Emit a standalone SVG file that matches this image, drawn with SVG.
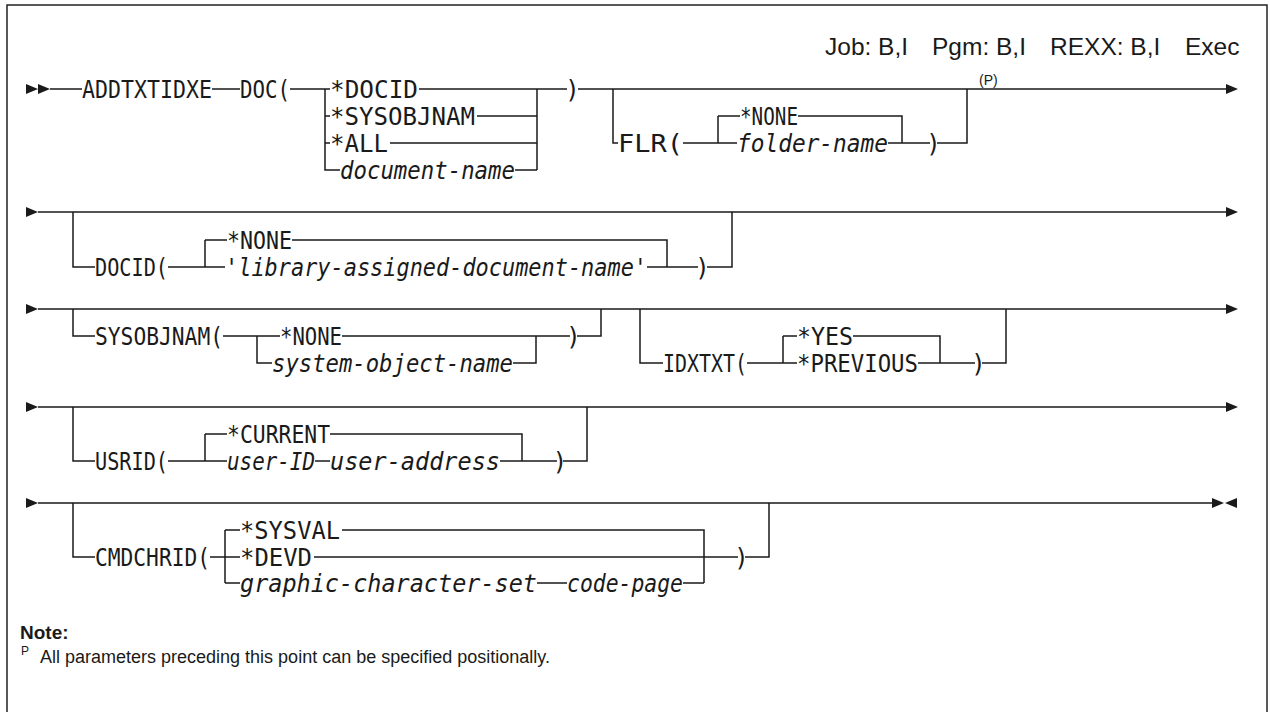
<svg xmlns="http://www.w3.org/2000/svg" width="1270" height="712" viewBox="0 0 1270 712">
<style>
.ln{fill:none;stroke:#1a1a1a;stroke-width:1.5}
.ah{fill:#1a1a1a}
.t{font-family:"DejaVu Sans Mono","Liberation Mono",monospace;font-size:24px;fill:#1a1a1a}
.i{font-style:italic}
.m{text-anchor:middle}
.s{font-family:"Liberation Sans",Arial,sans-serif;fill:#1a1a1a}
</style>
<rect x="7" y="5" width="1260" height="730" fill="#fff" stroke="#222" stroke-width="1.5"/>
<g id="header"><text class="s" font-size="24.5" y="55"><tspan x="825">Job: B,I</tspan><tspan x="932">Pgm: B,I</tspan><tspan x="1050">REXX: B,I</tspan><tspan x="1185">Exec</tspan></text></g>
<g id="connectors" class="ln">
<path d="M50 89H82M212 89H240M290 89H330M419 89H567M578 89H1226"/>
<path d="M325 89V170H340M325 116H330M325 143H330M477 116H537M390 143H537M515 170H537M537 89V170"/>
<path d="M613 89V143H618M683 143H737M718 116V143M718 116H740M798 116H902V143M888 143H930M937 143H967V89"/>
<path d="M38 212H1226M73 212V267H95M168 267H225M205 240V267M205 240H227M292 240H667V267M647 267H698M707 267H732V212"/>
<path d="M38 309H1226M73 309V336H95M223 336H280M257 336V363H272M513 363H536V336M342 336H570M577 336H601V309"/>
<path d="M640 309V363H663M747 363H797M783 336V363M783 336H797M853 336H940V363M918 363H975M982 363H1006V309"/>
<path d="M38 407H1226M73 407V461H95M168 461H227M205 434V461M205 434H227M330 434H522V461M315 461H330M500 461H557M563 461H587V407"/>
<path d="M38 503H1212M73 503V557H95M210 557H240M225 530V583M225 530H240M225 583H240M342 530H704V583M314 557H738M745 557H769V503M537 583H567M683 583H704"/>
</g>
<g id="arrows" class="ah">
<path d="M26 84L38 89L26 94ZM38 84L50 89L38 94Z"/>
<path d="M1226 84L1238 89L1226 94Z"/>
<path d="M26 207L38 212L26 217ZM1226 207L1238 212L1226 217Z"/>
<path d="M26 304L38 309L26 314ZM1226 304L1238 309L1226 314Z"/>
<path d="M26 402L38 407L26 412ZM1226 402L1238 407L1226 412Z"/>
<path d="M26 498L38 503L26 508ZM1212 498L1224 503L1212 508ZM1237 498L1225 503L1237 508Z"/>
</g>
<g id="n-addtxtidxe"><text class="t" x="82" y="97.5" textLength="130" lengthAdjust="spacingAndGlyphs">ADDTXTIDXE</text></g>
<g id="n-doc">
<text class="t" x="240" y="97.5" textLength="50" lengthAdjust="spacingAndGlyphs">DOC(</text>
<text class="t" x="330" y="97.5" textLength="88" lengthAdjust="spacingAndGlyphs">*DOCID</text>
<text class="t" x="330" y="124.5" textLength="145" lengthAdjust="spacingAndGlyphs">*SYSOBJNAM</text>
<text class="t" x="330" y="151.5" textLength="58" lengthAdjust="spacingAndGlyphs">*ALL</text>
<text class="t i" x="340" y="178.5" textLength="175" lengthAdjust="spacingAndGlyphs">document-name</text>
<text class="t m" x="572.5" y="97.5">)</text>
</g>
<g id="n-flr">
<text class="t" x="618" y="151.5" textLength="65" lengthAdjust="spacingAndGlyphs">FLR(</text>
<text class="t" x="740" y="124.5" textLength="58" lengthAdjust="spacingAndGlyphs">*NONE</text>
<text class="t i" x="737" y="151.5" textLength="151" lengthAdjust="spacingAndGlyphs">folder-name</text>
<text class="t m" x="933.5" y="151.5">)</text>
<text class="s" font-size="14" x="979" y="85">(P)</text>
</g>
<g id="n-docid">
<text class="t" x="95" y="275.5" textLength="73" lengthAdjust="spacingAndGlyphs">DOCID(</text>
<text class="t" x="227" y="248.5" textLength="65" lengthAdjust="spacingAndGlyphs">*NONE</text>
<text class="t i" x="225" y="275.5" textLength="422" lengthAdjust="spacingAndGlyphs">'library-assigned-document-name'</text>
<text class="t m" x="702.5" y="275.5">)</text>
</g>
<g id="n-sysobjnam">
<text class="t" x="95" y="344.5" textLength="128" lengthAdjust="spacingAndGlyphs">SYSOBJNAM(</text>
<text class="t" x="280" y="344.5" textLength="62" lengthAdjust="spacingAndGlyphs">*NONE</text>
<text class="t i" x="272" y="371.5" textLength="241" lengthAdjust="spacingAndGlyphs">system-object-name</text>
<text class="t m" x="573.5" y="344.5">)</text>
</g>
<g id="n-idxtxt">
<text class="t" x="663" y="371.5" textLength="84" lengthAdjust="spacingAndGlyphs">IDXTXT(</text>
<text class="t" x="797" y="344.5" textLength="56" lengthAdjust="spacingAndGlyphs">*YES</text>
<text class="t" x="797" y="371.5" textLength="121" lengthAdjust="spacingAndGlyphs">*PREVIOUS</text>
<text class="t m" x="978.5" y="371.5">)</text>
</g>
<g id="n-usrid">
<text class="t" x="95" y="469.5" textLength="73" lengthAdjust="spacingAndGlyphs">USRID(</text>
<text class="t" x="227" y="442.5" textLength="103" lengthAdjust="spacingAndGlyphs">*CURRENT</text>
<text class="t i" x="227" y="469.5" textLength="88" lengthAdjust="spacingAndGlyphs">user-ID</text>
<text class="t i" x="330" y="469.5" textLength="170" lengthAdjust="spacingAndGlyphs">user-address</text>
<text class="t m" x="560" y="469.5">)</text>
</g>
<g id="n-cmdchrid">
<text class="t" x="95" y="565.5" textLength="115" lengthAdjust="spacingAndGlyphs">CMDCHRID(</text>
<text class="t" x="240" y="538.5" textLength="100" lengthAdjust="spacingAndGlyphs">*SYSVAL</text>
<text class="t" x="240" y="565.5" textLength="72" lengthAdjust="spacingAndGlyphs">*DEVD</text>
<text class="t i" x="240" y="591.5" textLength="297" lengthAdjust="spacingAndGlyphs">graphic-character-set</text>
<text class="t i" x="567" y="591.5" textLength="116" lengthAdjust="spacingAndGlyphs">code-page</text>
<text class="t m" x="741.5" y="565.5">)</text>
</g>
<g id="note">
<text class="s" font-size="19" font-weight="bold" x="20" y="639">Note:</text>
<text class="s" font-size="12" x="21" y="655">P</text>
<text class="s" font-size="18" x="40" y="663">All parameters preceding this point can be specified positionally.</text>
</g>
</svg>
